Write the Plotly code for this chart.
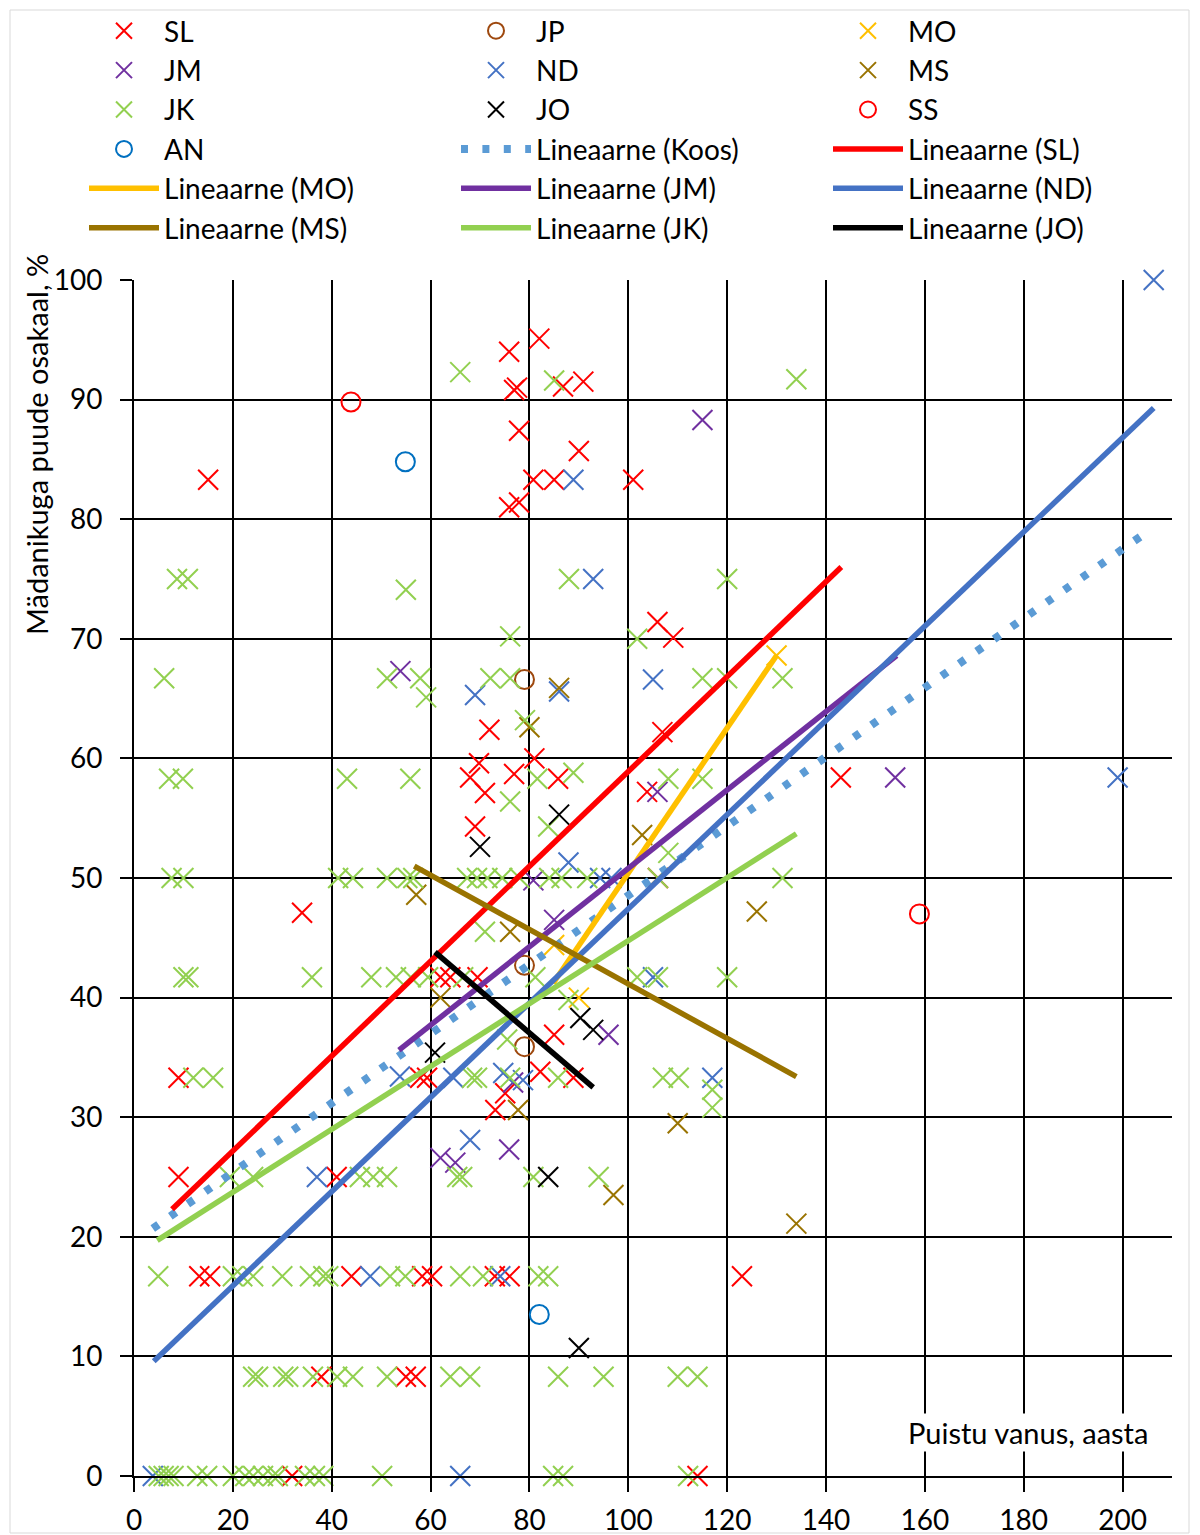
import plotly.graph_objects as go

# ---- measured points per stand type (age, share of decayed trees %) ----
SL_x = [15, 34, 9, 9, 13.2, 15.4, 41, 37.9, 32, 44, 55, 57, 58.3, 60.3, 73, 76, 123, 114, 143, 101,
        82, 75.9, 76.9, 77.5, 86.8, 90.9, 77.9, 90, 80.8, 85, 75.9, 77.9,
        71.9, 69.8, 68, 71, 76.9, 81, 85.8, 69, 105.9, 109.1, 106.9, 103.8, 106,
        62, 64, 69.5, 57.9, 59.3, 82.2, 88.9, 85, 75.1, 73.1]
SL_y = [83.3, 47.1, 33.3, 25, 16.7, 16.7, 25, 8.3, 0, 16.7, 8.3, 8.3, 16.7, 16.7, 16.7, 16.7, 16.7, 0, 58.4, 83.3,
        95.1, 94, 90.8, 91, 91.1, 91.5, 87.4, 85.7, 83.3, 83.3, 81, 81.4,
        62.4, 59.6, 58.4, 57.1, 58.7, 60, 58.3, 54.3, 71.4, 70.1, 62.2, 57.2, 50,
        41.7, 41.7, 41.7, 33.3, 33.3, 33.8, 33.3, 36.9, 32, 30.6]

JP_x = [79, 79, 79]
JP_y = [66.6, 42.7, 35.9]

MO_x = [85, 90, 130]
MO_y = [44.4, 40, 68.6]

JM_x = [53.9, 115, 105.9, 154, 85, 80.8, 96, 76.7, 75.9, 62, 65]
JM_y = [67.3, 88.3, 57.2, 58.4, 46.5, 49.8, 36.9, 32.9, 27.3, 26.6, 26.2]

ND_x = [88.9, 92.9, 69, 86, 105, 87.9, 94.3, 96.6, 105, 117, 53.8, 64.6, 74.7, 78.7, 68, 37, 47.8, 74.1,
        3.8, 66, 199, 206.3]
ND_y = [83.3, 75, 65.3, 65.6, 66.6, 51.3, 50, 50, 41.7, 33.3, 33.4, 33.3, 33.7, 33.1, 28.1, 25, 16.7, 16.7,
        0, 0, 58.4, 100]

MS_x = [57.1, 86, 80, 102.8, 76.1, 62, 77.7, 126, 110, 97, 134]
MS_y = [48.6, 65.9, 62.6, 53.6, 45.5, 40, 30.6, 47.2, 29.5, 23.5, 21.1]

JK_x = [66, 85, 134,
        8.7, 10.9, 55, 88, 120,
        76.1, 101.8,
        6.1, 51.2, 57.9, 72.1, 76.1, 115, 120, 131.2,
        59.1, 79.1,
        7.1, 9.9, 43.1, 55.9, 81.6, 88.9, 108.1, 115,
        76.1, 83.8, 108.1,
        7.6, 10, 41.3, 44.3, 51.2, 55.3, 56.5, 67.4, 69.4, 71.5, 74.5, 78, 84, 86.5, 91.7, 106, 131.2,
        71,
        10, 11, 36, 48, 53, 56, 59.5, 66.6, 81.2, 101.8, 106, 120,
        87.9, 75.5,
        12, 16, 68.4, 69.4, 76.1, 85.8, 107, 110.2,
        117, 117,
        19.4, 24.1, 45.7, 48.4, 51.2, 65.4, 66.4, 80.8, 94,
        4.9, 20, 21.9, 24.1, 30, 35.6, 38.3, 39.3, 51.8, 54.9, 66, 70.6, 81.8, 83.8,
        24.1, 25.1, 30.2, 31.2, 36.2, 41.1, 44.3, 51.2, 64, 68, 85.8, 95, 110, 114,
        5, 6, 7, 8, 12.8, 14.8, 20, 22.5, 24.1, 26.1, 28.1, 29.1, 34.6, 36.6, 38.3, 50.2, 84.8, 86.8, 112.1]
JK_y = [92.3, 91.6, 91.7,
        75, 75, 74.1, 75, 75,
        70.2, 70,
        66.7, 66.7, 66.7, 66.7, 66.7, 66.7, 66.7, 66.7,
        65.1, 63.2,
        58.3, 58.3, 58.3, 58.3, 58.3, 58.8, 58.3, 58.3,
        56.4, 54.3, 52.1,
        50, 50, 50, 50, 50, 50, 50, 50, 50, 50, 50, 50, 50, 50, 50, 50, 50,
        45.5,
        41.7, 41.7, 41.7, 41.7, 41.7, 41.7, 41.7, 41.7, 41.7, 41.7, 41.7, 41.7,
        39.8, 36.5,
        33.3, 33.3, 33.3, 33.3, 33.3, 33.3, 33.3, 33.3,
        32.3, 30.8,
        25, 25, 25, 25, 25, 25, 25, 25, 25,
        16.7, 16.7, 16.7, 16.7, 16.7, 16.7, 16.7, 16.7, 16.7, 16.7, 16.7, 16.7, 16.7, 16.7,
        8.3, 8.3, 8.3, 8.3, 8.3, 8.3, 8.3, 8.3, 8.3, 8.3, 8.3, 8.3, 8.3, 8.3,
        0, 0, 0, 0, 0, 0, 0, 0, 0, 0, 0, 0, 0, 0, 0, 0, 0, 0, 0]

JO_x = [86, 70, 90.3, 92.9, 60.9, 83.8, 90]
JO_y = [55.3, 52.6, 38.3, 37.3, 35.4, 25, 10.7]

SS_x = [43.9, 158.9]
SS_y = [89.8, 47]

AN_x = [54.9, 82]
AN_y = [84.8, 13.5]

# ---- linear trend lines: start/end age and fitted value ----
trend_names = ["Koos", "SL", "MO", "JM", "ND", "MS", "JK", "JO"]
trend_x0 = [3.8, 7.7, 84.8, 53.6, 4.0, 56.7, 4.7, 60.9]
trend_x1 = [204.5, 143.1, 130.0, 154.3, 206.3, 134.0, 134.0, 92.9]
trend_y0 = [20.7, 22.3, 41.2, 35.6, 9.6, 51.0, 19.7, 43.8]
trend_y1 = [78.8, 76.0, 68.6, 68.6, 89.3, 33.4, 53.7, 32.5]

x_ticks = list(range(0, 201, 20))
y_ticks = list(range(0, 101, 10))

colors = {
    "SL": "#FF0000", "JP": "#9E480E", "MO": "#FFC000", "JM": "#7030A0",
    "ND": "#4472C4", "MS": "#997300", "JK": "#92D050", "JO": "#000000",
    "SS": "#FF0000", "AN": "#0070C0", "Koos": "#5B9BD5",
}

points = [
    ("SL", SL_x, SL_y, "x-thin"), ("JP", JP_x, JP_y, "circle-open"), ("MO", MO_x, MO_y, "x-thin"),
    ("JM", JM_x, JM_y, "x-thin"), ("ND", ND_x, ND_y, "x-thin"), ("MS", MS_x, MS_y, "x-thin"),
    ("JK", JK_x, JK_y, "x-thin"), ("JO", JO_x, JO_y, "x-thin"), ("SS", SS_x, SS_y, "circle-open"),
    ("AN", AN_x, AN_y, "circle-open"),
]

FONT = "Lato"
fig = go.Figure()

for name, xs, ys, sym in points:
    c = colors[name]
    fig.add_trace(go.Scatter(
        x=xs, y=ys, mode="markers", name=name, cliponaxis=False,
        marker=dict(symbol=sym, size=20 if sym == "x-thin" else 19, color=c,
                    line=dict(width=2, color=c)),
    ))

for i, name in enumerate(trend_names):
    c = colors[name]
    if name == "Koos":
        line = dict(color=c, width=8, dash="7px,14.4px")
    else:
        line = dict(color=c, width=5.5)
    fig.add_trace(go.Scatter(
        x=[trend_x0[i], trend_x1[i]], y=[trend_y0[i], trend_y1[i]],
        mode="lines", name=f"Lineaarne ({name})", line=line,
    ))

W, H = 1200, 1535
L, R, T, B = 134, 28, 280, 59
pw, ph = W - L - R, H - T - B

fig.update_layout(
    width=W, height=H,
    margin=dict(l=L, r=R, t=T, b=B, autoexpand=False),
    paper_bgcolor="white", plot_bgcolor="white",
    font=dict(family=FONT, size=28, color="black"),
    showlegend=True,
    legend=dict(
        orientation="h", xref="paper", yref="paper",
        x=(84 - L) / pw, y=(1476 - 6) / ph, xanchor="left", yanchor="top",
        entrywidth=287, entrywidthmode="pixels", itemwidth=70,
        font=dict(family=FONT, size=28, color="black"),
        bgcolor="rgba(0,0,0,0)", traceorder="normal",
    ),
    xaxis=dict(
        range=[0, 210], tickvals=x_ticks, ticks="outside", ticklen=14, tickwidth=2,
        tickcolor="black", showgrid=True, gridcolor="black", gridwidth=2,
        showline=True, linecolor="black", linewidth=2, zeroline=False,
        tickfont=dict(family=FONT, size=28), ticklabelstandoff=4, fixedrange=True,
    ),
    yaxis=dict(
        range=[0, 100], tickvals=y_ticks, ticks="outside", ticklen=12, tickwidth=2,
        tickcolor="black", showgrid=True, gridcolor="black", gridwidth=2,
        showline=True, linecolor="black", linewidth=2, zeroline=False,
        tickfont=dict(family=FONT, size=28), ticklabelstandoff=12,
        fixedrange=True,
    ),
    annotations=[
        dict(
            text="Puistu vanus, aasta", xref="paper", yref="paper",
            x=(1150 - L) / pw, y=(1476 - 1432) / ph, xanchor="right", yanchor="middle",
            showarrow=False, bgcolor="white", font=dict(family=FONT, size=29, color="black"),
        ),
        dict(
            text="Mädanikuga puude osakaal, %", xref="paper", yref="paper",
            x=(37 - L) / pw, y=(1476 - 445) / ph, xanchor="center", yanchor="middle",
            textangle=-90, showarrow=False, font=dict(family=FONT, size=29, color="black"),
        ),
    ],
    shapes=[dict(
        type="rect", xref="paper", yref="paper", layer="below",
        x0=(10 - L) / pw, x1=(1189 - L) / pw, y0=(1476 - 1533) / ph, y1=(1476 - 10) / ph,
        line=dict(color="#D9D9D9", width=1), fillcolor="rgba(0,0,0,0)",
    )],
)

fig.write_html("out.html")
